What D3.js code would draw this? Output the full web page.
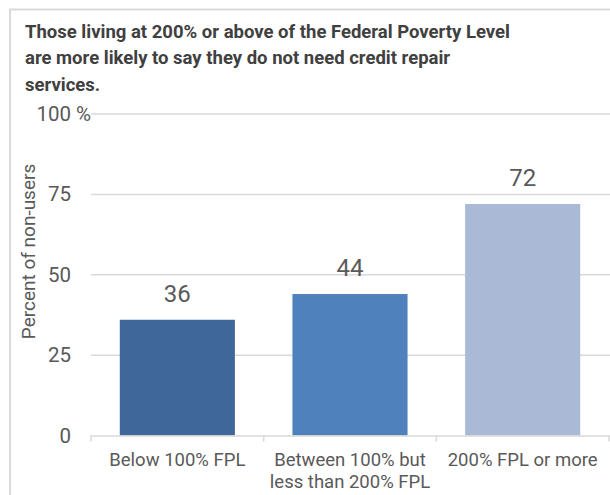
<!DOCTYPE html>
<html>
<head>
<meta charset="utf-8">
<script src="https://cdn.jsdelivr.net/npm/d3@7"></script>
<style>
  html, body { margin: 0; padding: 0; background: #fff; }
  svg { display: block; font-family: Roboto, "Noto Sans", sans-serif; }
</style>
</head>
<body>
<svg id="chart" width="610" height="495"></svg>
<script>
// Share of non-users by income relative to the Federal Poverty Level
const categories = ["Below 100% FPL", "Between 100% but less than 200% FPL", "200% FPL or more"];
const categoryLines = [["Below 100% FPL"], ["Between 100% but", "less than 200% FPL"], ["200% FPL or more"]];
const values = [36, 44, 72];
const barColors = ["#3f6899", "#4f81bd", "#a9b9d6"];
const yTicks = [0, 25, 50, 75, 100];
const titleLines = [
  "Those living at 200% or above of the Federal Poverty Level",
  "are more likely to say they do not need credit repair",
  "services."
];
const yAxisTitle = "Percent of non-users";

const svg = d3.select("#chart");

// outer frame
svg.append("path")
  .attr("d", "M10,640 L10,9.5 L640,9.5")
  .attr("fill", "none")
  .attr("stroke", "#d9d9d9")
  .attr("stroke-width", 2);

// title
const title = svg.append("text")
  .attr("x", 25)
  .attr("y", 37.5)
  .attr("fill", "#404040")
  .attr("font-weight", "bold")
  .attr("font-size", "18.5px");
titleLines.forEach((t, i) => {
  title.append("tspan").attr("x", 25).attr("dy", i === 0 ? 0 : 26.5).text(t);
});

const x = d3.scaleBand()
  .domain(categories)
  .range([91, 609])
  .paddingInner(1 / 3)
  .paddingOuter(1 / 6);

const y = d3.scaleLinear().domain([0, 100]).range([435.5, 114]);

// gridlines
svg.append("g")
  .selectAll("line")
  .data(yTicks.filter(d => d > 0))
  .join("line")
  .attr("x1", 91).attr("x2", 610)
  .attr("y1", d => y(d)).attr("y2", d => y(d))
  .attr("stroke", "#d9d9d9")
  .attr("stroke-width", 1.5);

// y tick labels
const yLab = svg.append("g")
  .attr("fill", "#595959")
  .attr("font-size", "20.5px");
yTicks.forEach(d => {
  const t = yLab.append("text")
    .attr("y", y(d) + 7)
    .attr("x", 71)
    .attr("text-anchor", "end")
    .text(d);
  if (d === 100) {
    const w = t.node().getComputedTextLength();
    t.attr("text-anchor", "start").attr("x", 71 - w).text("100 %");
  }
});

// y axis title
svg.append("text")
  .attr("transform", "translate(35, 251.5) rotate(-90)")
  .attr("text-anchor", "middle")
  .attr("fill", "#595959")
  .attr("font-size", "19px")
  .text(yAxisTitle);

// bars
svg.append("g")
  .selectAll("rect")
  .data(values)
  .join("rect")
  .attr("x", (d, i) => x(categories[i]))
  .attr("width", x.bandwidth())
  .attr("y", d => y(d))
  .attr("height", d => y(0) - y(d))
  .attr("fill", (d, i) => barColors[i]);

// value labels
svg.append("g")
  .selectAll("text")
  .data(values)
  .join("text")
  .attr("x", (d, i) => x(categories[i]) + x.bandwidth() / 2)
  .attr("y", d => y(d) - 18)
  .attr("text-anchor", "middle")
  .attr("fill", "#595959")
  .attr("font-size", "24px")
  .text(d => d);

// category axis
const xAxis = d3.axisBottom(x).tickSize(0).tickFormat("");
const gx = svg.append("g").attr("transform", `translate(0, ${y(0)})`).call(xAxis);
gx.select(".domain").attr("stroke", "#d9d9d9").attr("stroke-width", 1.5).attr("d", "M91,0.5H610");

// category dividers
const edges = categories.map(c => x(c) - x.step() * x.paddingInner() / 2).concat([609]);
svg.append("g")
  .selectAll("line")
  .data(edges)
  .join("line")
  .attr("x1", d => d).attr("x2", d => d)
  .attr("y1", y(0)).attr("y2", y(0) + 6)
  .attr("stroke", "#d9d9d9")
  .attr("stroke-width", 1.5);

// category labels
const cl = svg.append("g")
  .attr("fill", "#595959")
  .attr("font-size", "18.5px")
  .attr("text-anchor", "middle");
categories.forEach((c, i) => {
  const t = cl.append("text")
    .attr("x", x(c) + x.bandwidth() / 2)
    .attr("y", 466);
  categoryLines[i].forEach((line, j) => {
    t.append("tspan").attr("x", x(c) + x.bandwidth() / 2).attr("dy", j === 0 ? 0 : 21.5).text(line);
  });
});
</script>
</body>
</html>
